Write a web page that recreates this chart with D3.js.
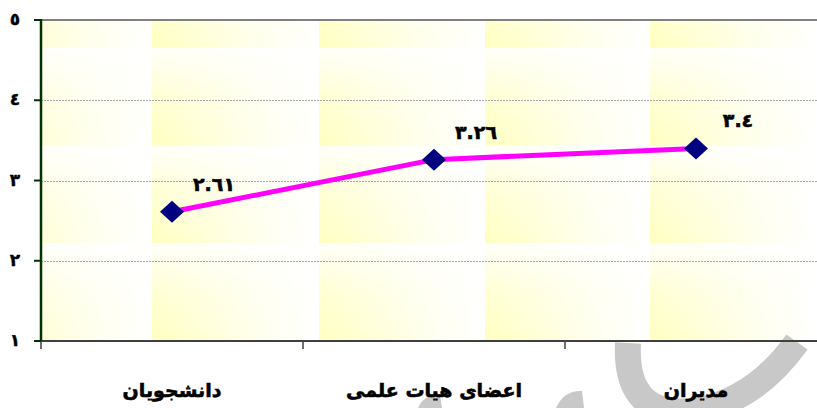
<!DOCTYPE html>
<html>
<head>
<meta charset="utf-8">
<script src="https://cdn.jsdelivr.net/npm/d3@7"></script>
<style>
  html, body { margin: 0; padding: 0; background: #ffffff; }
  svg { display: block; }
  text { font-family: "DejaVu Sans", sans-serif; font-weight: bold; }
</style>
</head>
<body>
<svg id="chart" width="817" height="408"></svg>
<script>
const categories = ["دانشجویان", "اعضای هیات علمی", "مدیران"];
const values = [2.61, 3.26, 3.4];
const yTicks = [1, 2, 3, 4, 5];

const toArabicDigits = s => String(s).replace(/[0-9]/g, d => "٠١٢٣٤٥٦٧٨٩"[+d]);

const W = 817, H = 408;
const margin = { left: 41, top: 20, bottom: 67 };
const bandW = 262;
const svg = d3.select("#chart");

const x = d3.scaleBand().domain(categories).range([margin.left, margin.left + bandW * categories.length]).padding(0);
const y = d3.scaleLinear().domain([1, 5]).range([H - margin.bottom, margin.top]);

const plotRight = W;
const defs = svg.append("defs");

// background texture tiles
const hg = defs.append("linearGradient").attr("id", "hg").attr("x1", 0).attr("y1", 0).attr("x2", 1).attr("y2", 0);
hg.append("stop").attr("offset", 0).attr("stop-color", "#ffffc0");
hg.append("stop").attr("offset", 0.6).attr("stop-color", "#ffffeb");
hg.append("stop").attr("offset", 1).attr("stop-color", "#ffffff");
const vg = defs.append("linearGradient").attr("id", "vg").attr("x1", 0).attr("y1", 0).attr("x2", 0).attr("y2", 1);
vg.append("stop").attr("offset", 0).attr("stop-color", "#ffffff").attr("stop-opacity", 0.9);
vg.append("stop").attr("offset", 0.5).attr("stop-color", "#ffffff").attr("stop-opacity", 0.3);
vg.append("stop").attr("offset", 1).attr("stop-color", "#ffffff").attr("stop-opacity", 0);

const tileW = 166, tileH = 97.5;
const pat = defs.append("pattern").attr("id", "tex").attr("patternUnits", "userSpaceOnUse")
  .attr("x", 152).attr("y", 48).attr("width", tileW).attr("height", tileH);
pat.append("rect").attr("width", tileW).attr("height", tileH).attr("fill", "url(#hg)");
pat.append("rect").attr("width", tileW).attr("height", tileH).attr("fill", "url(#vg)");

svg.append("rect")
  .attr("x", margin.left).attr("y", y(5))
  .attr("width", plotRight - margin.left).attr("height", y(1) - y(5))
  .attr("fill", "url(#tex)");

// watermark (light gray)
const wm = svg.append("g").attr("fill", "none").attr("stroke", "#c8c8c8").attr("stroke-width", 26);
wm.append("path").attr("d", "M628,343 Q624,422 700,410 Q757,398 797,342");
svg.append("path").attr("d", "M556,408 Q564,390 582,391 L584,408 Z").attr("fill", "#c8c8c8");
svg.append("path").attr("d", "M418,408 Q424,394 440,396 L442,408 Z").attr("fill", "#c8c8c8");

// gridlines
svg.append("g").selectAll("line").data(yTicks.filter(t => t > 1 && t < 5)).join("line")
  .attr("x1", margin.left).attr("x2", plotRight)
  .attr("y1", d => Math.round(y(d)) + 0.5).attr("y2", d => Math.round(y(d)) + 0.5)
  .attr("stroke", "#a8a8a8").attr("stroke-width", 1).attr("stroke-dasharray", "2,1");

// top border
svg.append("line").attr("x1", margin.left).attr("x2", plotRight)
  .attr("y1", y(5)).attr("y2", y(5)).attr("stroke", "#808080").attr("stroke-width", 2);

// x axis
const xAxisG = svg.append("g").attr("transform", `translate(0,${y(1)})`);
xAxisG.append("line").attr("x1", margin.left).attr("x2", plotRight).attr("y1", 0).attr("y2", 0)
  .attr("stroke", "#404040").attr("stroke-width", 2);
xAxisG.selectAll("line.tick").data(categories).join("line").attr("class", "tick")
  .attr("x1", d => x(d)).attr("x2", d => x(d)).attr("y1", 0).attr("y2", 8)
  .attr("stroke", "#404040").attr("stroke-width", 1.5);
xAxisG.selectAll("text").data(categories).join("text")
  .attr("x", d => x(d) + x.bandwidth() / 2).attr("y", 56)
  .attr("text-anchor", "middle").attr("font-size", 19).attr("fill", "#000")
  .attr("stroke", "#000").attr("stroke-width", 0.6)
  .attr("direction", "rtl").style("unicode-bidi", "plaintext")
  .text(d => d);

// y axis
const yAxisG = svg.append("g");
yAxisG.append("line").attr("x1", margin.left).attr("x2", margin.left).attr("y1", y(5) - 1).attr("y2", y(1))
  .attr("stroke", "#003300").attr("stroke-width", 2.5);
yAxisG.selectAll("line.tick").data(yTicks).join("line").attr("class", "tick")
  .attr("x1", margin.left - 7).attr("x2", margin.left).attr("y1", d => y(d)).attr("y2", d => y(d))
  .attr("stroke", "#003300").attr("stroke-width", 2);
yAxisG.selectAll("text").data(yTicks).join("text")
  .attr("x", 15).attr("y", d => y(d) + 5)
  .attr("text-anchor", "middle").attr("font-size", 17).attr("fill", "#000")
  .attr("stroke", "#000").attr("stroke-width", 0.4)
  .text(d => toArabicDigits(d));

// line
const cx = d => x(d) + x.bandwidth() / 2;
const pts = categories.map((c, i) => [cx(c), y(values[i])]);
svg.append("path").attr("d", d3.line()(pts))
  .attr("fill", "none").attr("stroke", "#ff00ff").attr("stroke-width", 5).attr("stroke-linejoin", "round");

// markers
svg.append("g").selectAll("path").data(pts).join("path")
  .attr("transform", d => `translate(${d[0]},${d[1]})`)
  .attr("d", "M0,-11 L12,0 L0,11 L-12,0 Z")
  .attr("fill", "#000080");

// data labels
svg.append("g").selectAll("text").data(values).join("text")
  .attr("x", (d, i) => pts[i][0] + 42).attr("y", (d, i) => pts[i][1] - 21)
  .attr("text-anchor", "middle").attr("font-size", 19).attr("fill", "#000")
  .attr("stroke", "#000").attr("stroke-width", 0.6)
  .text(d => toArabicDigits(d3.format("")(d)));
</script>
</body>
</html>
